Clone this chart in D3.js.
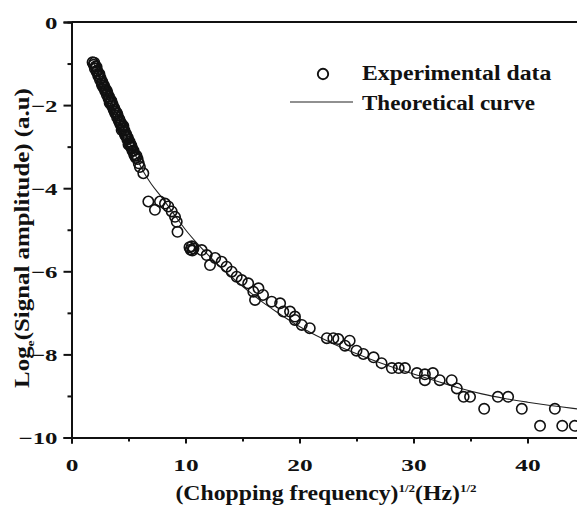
<!DOCTYPE html>
<html>
<head>
<meta charset="utf-8">
<script src="https://cdn.jsdelivr.net/npm/d3@7"></script>
<style>
  html, body { margin: 0; padding: 0; background: #fff; }
  svg { display: block; }
  text { font-family: "Liberation Serif", "Times New Roman", serif; font-weight: bold; fill: #111; }
</style>
</head>
<body>
<svg id="chart" width="577" height="515"></svg>
<script>
// Measured signal: sqrt(chopping frequency) vs natural log of amplitude
const expX = [
  1.85, 1.95, 2.0, 2.05, 2.1, 2.2, 2.25, 2.35, 2.4, 2.5, 2.55, 2.65, 2.7, 2.8, 2.85, 2.95, 3.0, 3.1,
  3.15, 3.25, 3.3, 3.4, 3.45, 3.55, 3.6, 3.7, 3.75, 3.85, 3.9, 4.0, 4.05, 4.15, 4.2, 4.3, 4.35, 4.45,
  4.5, 4.6, 4.65, 4.75, 4.8, 4.9, 4.95, 5.05, 5.1, 5.2, 5.25, 5.35, 5.45, 5.55, 5.65, 5.8, 6.0, 6.3,
  2.2, 2.45, 2.7, 2.9, 3.1, 3.35, 3.5, 3.8, 4.0, 4.25, 4.4, 4.55, 4.7, 4.85, 5.0, 5.15, 5.3, 5.5, 5.7, 5.9,
  6.74, 7.32, 7.76, 8.2, 8.49, 8.79, 9.08, 9.23, 9.3,
  10.35, 10.45, 10.55, 10.6, 10.7, 11.42, 11.86, 12.15, 12.6, 13.17, 13.6, 14.05, 14.49, 14.93,
  15.5, 15.95, 16.1, 16.4, 16.8, 17.56, 18.3, 18.58, 19.17, 19.6, 19.6, 20.2, 20.9,
  22.4, 22.97, 23.4, 23.99, 24.4, 25.0, 25.6, 26.5, 27.2, 28.1, 28.7, 29.25, 30.3, 31.0, 31.0,
  31.7, 32.3, 33.35, 33.8, 34.4, 34.96, 36.2, 37.4, 38.3, 39.5, 41.1, 42.4, 43.05, 44.15
];
const expY = [
  -0.97, -1.03, -0.98, -1.12, -1.07, -1.2, -1.17, -1.3, -1.26, -1.39, -1.35, -1.48, -1.44, -1.57, -1.53, -1.66, -1.62, -1.75,
  -1.71, -1.84, -1.8, -1.93, -1.89, -2.02, -1.98, -2.11, -2.07, -2.2, -2.16, -2.29, -2.25, -2.38, -2.34, -2.47, -2.43, -2.56,
  -2.52, -2.65, -2.61, -2.74, -2.7, -2.83, -2.79, -2.92, -2.88, -3.01, -2.97, -3.1, -3.1, -3.22, -3.27, -3.3, -3.49, -3.64,
  -1.08, -1.25, -1.52, -1.58, -1.66, -1.95, -1.9, -2.16, -2.2, -2.42, -2.6, -2.5, -2.72, -2.76, -2.95, -2.94, -3.03, -3.18, -3.22, -3.4,
  -4.32, -4.52, -4.32, -4.37, -4.44, -4.56, -4.69, -4.81, -5.05,
  -5.42, -5.48, -5.4, -5.5, -5.45, -5.49, -5.61, -5.85, -5.68, -5.77, -5.89, -6.01, -6.13, -6.21,
  -6.29, -6.49, -6.69, -6.41, -6.57, -6.73, -6.77, -6.97, -6.97, -7.09, -7.17, -7.29, -7.37,
  -7.61, -7.61, -7.63, -7.79, -7.67, -7.91, -7.99, -8.07, -8.21, -8.33, -8.33, -8.33, -8.45, -8.48, -8.62,
  -8.45, -8.62, -8.62, -8.82, -9.02, -9.02, -9.31, -9.02, -9.02, -9.31, -9.72, -9.31, -9.72, -9.72
];

// Fitted model curve
const fitX = [1.9, 3, 4, 5, 6.3, 7, 8, 9, 10, 11, 12, 13, 14, 15, 16, 17, 18, 19, 20, 21, 22, 23, 24, 26, 28, 30, 32, 34, 36, 38, 40, 42, 44, 45];
const fitY = [-0.97, -1.63, -2.23, -2.83, -3.6, -3.9, -4.25, -4.63, -5.0, -5.32, -5.61, -5.88, -6.13, -6.36, -6.58, -6.79, -6.98, -7.16, -7.33, -7.48, -7.62, -7.75, -7.87, -8.09, -8.29, -8.47, -8.64, -8.81, -8.95, -9.06, -9.15, -9.23, -9.3, -9.33];

const xTicks = [0, 10, 20, 30, 40];
const yTicks = [0, -2, -4, -6, -8, -10];

const svg = d3.select("#chart");
const plotLeft = 71.5, plotTop = 22, plotBottom = 437.5;
const x = d3.scaleLinear().domain([0, 45]).range([plotLeft, plotLeft + 45 * 11.4]);
const y = d3.scaleLinear().domain([-10, 0]).range([plotBottom, plotTop]);

// Stretch a text element horizontally (about its own anchor) to a given width
function fitWidth(sel, width, base) {
  const w = sel.node().getBBox().width;
  sel.attr("transform", `${base} scale(${width / w},1)`);
}

// Frame: top border line
svg.append("line")
  .attr("x1", plotLeft).attr("x2", 577).attr("y1", plotTop).attr("y2", plotTop)
  .attr("stroke", "#111").attr("stroke-width", 2);

// Y axis with minor ticks
const yMinor = d3.range(-9, 0, 2);
const yLabelScale = 1.42;
const gy = svg.append("g").attr("transform", `translate(${plotLeft},0)`);
gy.call(d3.axisLeft(y).tickValues(yMinor).tickSize(4).tickFormat(""));
gy.call(g => g.append("g").call(d3.axisLeft(y).tickValues(yTicks).tickSize(8).tickFormat(d3.format("d"))));
gy.selectAll(".domain").attr("stroke-width", 2).attr("stroke", "#111");
gy.selectAll(".tick line").attr("stroke-width", 2).attr("stroke", "#111");
gy.selectAll(".tick text").style("font-size", "17.5px").attr("font-family", null).attr("fill", "#111")
  .attr("dy", "0.35em").attr("x", -14 / yLabelScale).attr("transform", `scale(${yLabelScale},1)`);

// X axis with minor ticks
const xMinor = [5, 15, 25, 35, 45];
const gx = svg.append("g").attr("transform", `translate(0,${plotBottom})`);
gx.call(d3.axisBottom(x).tickValues(xMinor).tickSize(4).tickFormat(""));
gx.call(g => g.append("g").call(d3.axisBottom(x).tickValues(xTicks).tickSize(6).tickPadding(15).tickFormat(d3.format("d"))));
gx.selectAll(".domain").attr("stroke-width", 2).attr("stroke", "#111");
gx.selectAll(".tick line").attr("stroke-width", 2).attr("stroke", "#111");
gx.selectAll(".tick text").style("font-size", "17.5px").attr("font-family", null).attr("fill", "#111")
  .attr("transform", "scale(1.45,1)");

// Model curve
const line = d3.line().x((d, i) => x(fitX[i])).y((d, i) => y(fitY[i])).curve(d3.curveMonotoneX);
svg.append("path").datum(fitX).attr("d", line)
  .attr("fill", "none").attr("stroke", "#222").attr("stroke-width", 1.1);

// Experimental points
svg.append("g").selectAll("circle").data(expX).join("circle")
  .attr("cx", (d) => x(d)).attr("cy", (d, i) => y(expY[i])).attr("r", 5.2)
  .attr("fill", "none").attr("stroke", "#111").attr("stroke-width", 1.6);

// Legend
svg.append("circle").attr("cx", 323).attr("cy", 74).attr("r", 5.2)
  .attr("fill", "none").attr("stroke", "#111").attr("stroke-width", 1.9);
const lg1 = svg.append("text").attr("x", 0).attr("y", 0).style("font-size", "21px").text("Experimental data");
fitWidth(lg1, 190, "translate(362,80)");
svg.append("line").attr("x1", 290).attr("x2", 353).attr("y1", 102).attr("y2", 102)
  .attr("stroke", "#222").attr("stroke-width", 1.2);
const lg2 = svg.append("text").attr("x", 0).attr("y", 0).style("font-size", "21px").text("Theoretical curve");
fitWidth(lg2, 173, "translate(362,110)");

// Axis titles
const xt = svg.append("text").attr("x", 0).attr("y", 0).attr("text-anchor", "middle").style("font-size", "20px");
xt.append("tspan").text("(Chopping frequency)");
xt.append("tspan").attr("dy", -8).style("font-size", "11px").text("1/2");
xt.append("tspan").attr("dy", 8).text("(Hz)");
xt.append("tspan").attr("dy", -8).style("font-size", "11px").text("1/2");
fitWidth(xt, 302, "translate(326,500)");

const yt = svg.append("text").attr("x", 0).attr("y", 0).attr("text-anchor", "middle").style("font-size", "20px");
yt.append("tspan").text("Log");
yt.append("tspan").attr("dy", 5).style("font-size", "11px").text("e");
yt.append("tspan").attr("dy", -5).text("(Signal amplitude) (a.u)");
fitWidth(yt, 300, "translate(29,238) rotate(-90)");
</script>
</body>
</html>
